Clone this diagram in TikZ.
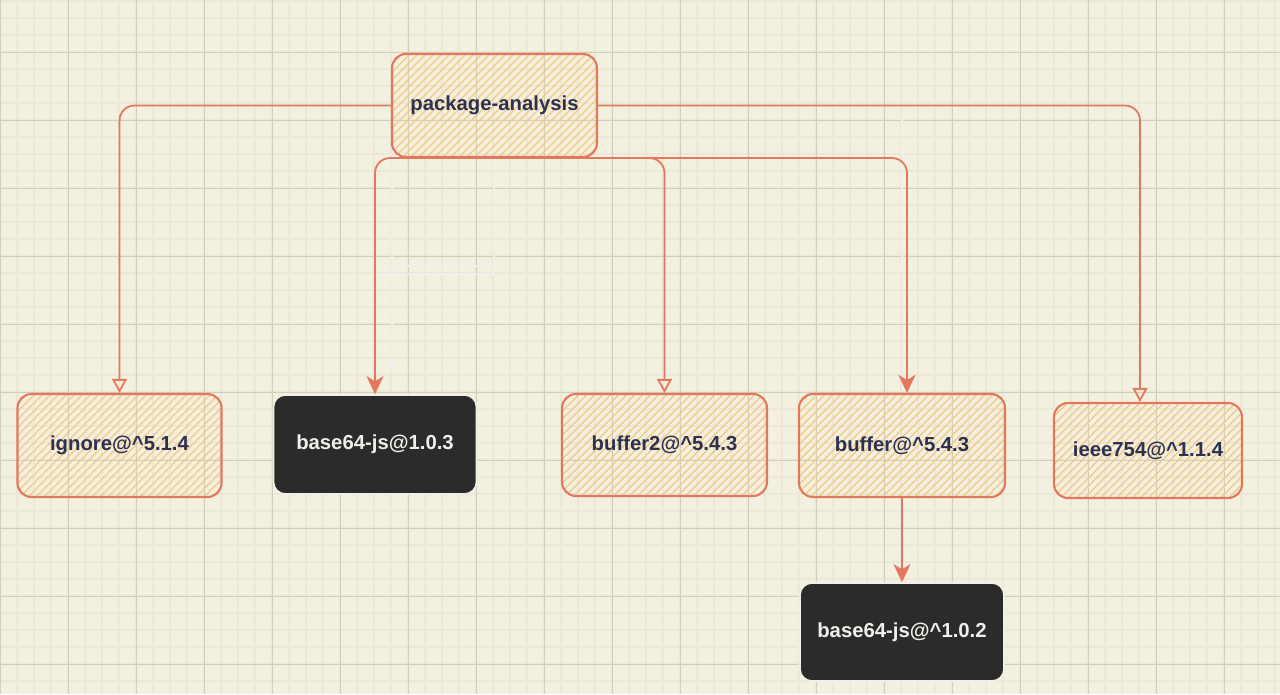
\documentclass[tikz,border=0pt]{standalone}
\usepackage{fontspec}
\setmainfont{Liberation Sans}
\usetikzlibrary{arrows.meta}
\definecolor{bg}{RGB}{243,240,223}
\definecolor{gridminor}{RGB}{236,232,215}
\definecolor{gridmajor}{RGB}{210,205,187}
\definecolor{coral}{RGB}{226,121,95}
\definecolor{hatchc}{RGB}{243,199,133}
\definecolor{navy}{RGB}{45,49,80}
\definecolor{darkbox}{RGB}{43,43,43}
\definecolor{ghost}{RGB}{240,239,234}
\begin{document}
\begin{tikzpicture}[x=1pt,y=-1pt,
  lbl/.style={font=\fontsize{20.3}{24}\selectfont\bfseries, inner sep=0pt},
  pkg/.style={lbl, draw=coral, line width=2.1pt, rounded corners=14pt, text=navy,
    path picture={\foreach \i in {-320,-312,...,320}{\draw[hatchc, line width=1.1pt] ([xshift=\i pt]path picture bounding box.center) ++(-140pt,-140pt) -- ++(280pt,280pt);}}},
  dep/.style={lbl, draw=ghost, fill=darkbox, line width=1.6pt, rounded corners=12pt, text=ghost},
  conn/.style={draw=coral, line width=1.8pt, rounded corners=15pt},
  openhead/.style={-{Triangle[open, length=14pt, width=15pt]}},
  fullhead/.style={-{Stealth[length=18pt, width=17pt, inset=5pt]}},
  ghostline/.style={draw=ghost, line width=1.3pt},
]
\useasboundingbox (0,0) rectangle (1280,694);
% background grid
\fill[bg] (0,0) rectangle (1280,694);
\foreach \x in {0,17,...,1280} \draw[gridminor, line width=1.2pt] (\x,0) -- (\x,694);
\foreach \y in {1,18,...,694} \draw[gridminor, line width=1.2pt] (0,\y) -- (1280,\y);
\foreach \x in {0,68,...,1280} \draw[gridmajor, line width=0.8pt] (\x,0) -- (\x,694);
\foreach \y in {52,120,...,694} \draw[gridmajor, line width=0.8pt] (0,\y) -- (1280,\y);

% ghost connectors
\coordinate (ga) at (392,158);
\coordinate (gb) at (392,373);
\coordinate (gc) at (494,158);
\coordinate (gd) at (494,274);
\coordinate (ge) at (375,274);
\coordinate (gf) at (392,266);
\coordinate (gg) at (902,118);
\coordinate (gh) at (902,272);
\draw[ghostline, -{Stealth[length=13pt, width=12pt, inset=3pt]}] (ga) -- (gb);
\draw[ghostline] (gc) -- (gd) -- (ge);
\draw[ghostline] (gf) -- (gf -| gc);
\draw[ghostline, -{Stealth[length=11pt, width=10pt, inset=2pt]}] (gg) -- (gh);

% nodes
\node[pkg, minimum width=205pt, minimum height=103pt] (pa) at (494.5,105.5) {package-analysis};
\node[pkg, minimum width=204pt, minimum height=103pt] (ign) at (119.5,445.5) {ignore@\textasciicircum{}5.1.4};
\node[dep, minimum width=203pt, minimum height=99pt] (b103) at (375,444.5) {base64-js@1.0.3};
\node[pkg, minimum width=205pt, minimum height=102pt] (buf2) at (664.5,445) {buffer2@\textasciicircum{}5.4.3};
\node[pkg, minimum width=206pt, minimum height=103pt] (buf) at (902,445.5) {buffer@\textasciicircum{}5.4.3};
\node[pkg, minimum width=188pt, minimum height=95pt] (ieee) at (1148,450.5) {ieee754@\textasciicircum{}1.1.4};
\node[dep, minimum width=204pt, minimum height=98pt] (b102) at (902,632) {base64-js@\textasciicircum{}1.0.2};

% connectors
\draw[conn, openhead] (pa.west) -| (ign.north);
\draw[conn, fullhead] (pa.south) -| (b103.north);
\draw[conn, openhead] (pa.south) -| (buf2.north);
\draw[conn, fullhead] (pa.south) -| ([xshift=5pt]buf.north);
\draw[conn, openhead] (pa.east) -| ([xshift=-8pt]ieee.north);
\draw[conn, fullhead] (buf.south) -- (b102.north);
\end{tikzpicture}
\end{document}
